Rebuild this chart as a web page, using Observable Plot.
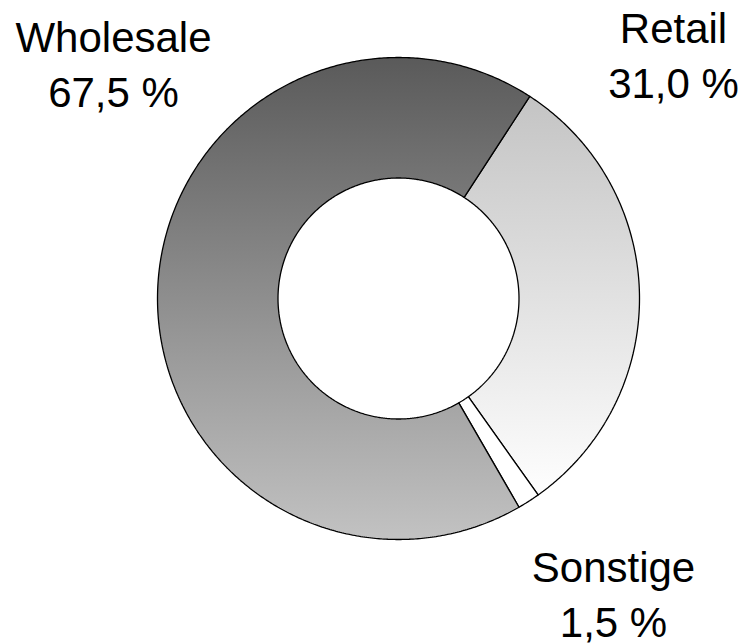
<!DOCTYPE html>
<html>
<head>
<meta charset="utf-8">
<script src="https://cdn.jsdelivr.net/npm/d3@7"></script>
<script src="https://cdn.jsdelivr.net/npm/@observablehq/plot@0.6"></script>
<style>
  html, body { margin: 0; padding: 0; background: #fff; }
  #chart { width: 746px; height: 644px; }
</style>
</head>
<body>
<div id="chart"></div>
<script>
// ---- data ----
const categories = ["Retail", "Sonstige", "Wholesale"];
const shares = [31.0, 1.5, 67.5];

// ---- layout / style ----
const W = 746, H = 644;
const cx = 398, cy = 298, R = 241;     // pixel centre and outer radius
const innerRatio = 0.5;
const startDeg = 33;                    // Retail starts here (clockwise from 12 o'clock)
const fills = {Retail: "url(#gRetail)", Sonstige: "#ffffff", Wholesale: "url(#gWholesale)"};
const labelPx = {                       // [centre x, last-line baseline y] in pixels
  Wholesale: [113, 106],
  Retail: [673, 97],
  Sonstige: [613, 636]
};

// build slice outlines from the shares
const total = d3.sum(shares);
const rows = [];
let acc = startDeg;
categories.forEach((name, i) => {
  const a0 = acc, a1 = acc + shares[i] / total * 360;
  acc = a1;
  const n = Math.max(4, Math.ceil((a1 - a0) / 0.5));
  const pts = [];
  for (let k = 0; k <= n; k++) {
    const a = (a0 + (a1 - a0) * k / n) * Math.PI / 180;
    pts.push([Math.sin(a), Math.cos(a)]);
  }
  for (let k = n; k >= 0; k--) {
    const a = (a0 + (a1 - a0) * k / n) * Math.PI / 180;
    pts.push([innerRatio * Math.sin(a), innerRatio * Math.cos(a)]);
  }
  pts.push(pts[0]);
  pts.forEach(([x, y]) => rows.push({name, x, y, fill: fills[name]}));
});

const fmt = v => v.toFixed(1).replace(".", ",") + " %";
const labels = categories.map((name, i) => ({
  name,
  text: name + "\n" + fmt(shares[i]),
  x: (labelPx[name][0] - cx) / R,
  y: (cy - labelPx[name][1]) / R
}));

const svgns = "http://www.w3.org/2000/svg";
function gradientDefs() {
  const defs = document.createElementNS(svgns, "defs");
  const mk = (id, c0, c1) => {
    const g = document.createElementNS(svgns, "linearGradient");
    g.setAttribute("id", id);
    g.setAttribute("x1", "0"); g.setAttribute("y1", "0");
    g.setAttribute("x2", "0"); g.setAttribute("y2", "1");
    [[0, c0], [1, c1]].forEach(([o, c]) => {
      const s = document.createElementNS(svgns, "stop");
      s.setAttribute("offset", o);
      s.setAttribute("stop-color", c);
      g.appendChild(s);
    });
    defs.appendChild(g);
  };
  mk("gWholesale", "#5a5a5a", "#c2c2c2");
  mk("gRetail", "#c4c4c4", "#fefefe");
  return defs;
}

const chart = Plot.plot({
  width: W,
  height: H,
  margin: 0,
  style: {background: "#fff", fontFamily: "'Liberation Sans', Arial, sans-serif"},
  x: {domain: [-1, 1], range: [cx - R, cx + R], axis: null},
  y: {domain: [-1, 1], range: [cy + R, cy - R], axis: null},
  color: {type: "identity"},
  marks: [
    gradientDefs,
    Plot.line(rows, {
      x: "x", y: "y", z: "name",
      fill: "fill",
      stroke: "#000",
      strokeWidth: 1.3,
      strokeLinejoin: "miter",
      curve: "linear"
    }),
    Plot.text(labels, {
      x: "x", y: "y", text: "text",
      fontSize: 42,
      fill: "#000",
      textAnchor: "middle",
      lineAnchor: "bottom",
      lineHeight: 1.29
    })
  ]
});
document.getElementById("chart").appendChild(chart);
</script>
</body>
</html>
